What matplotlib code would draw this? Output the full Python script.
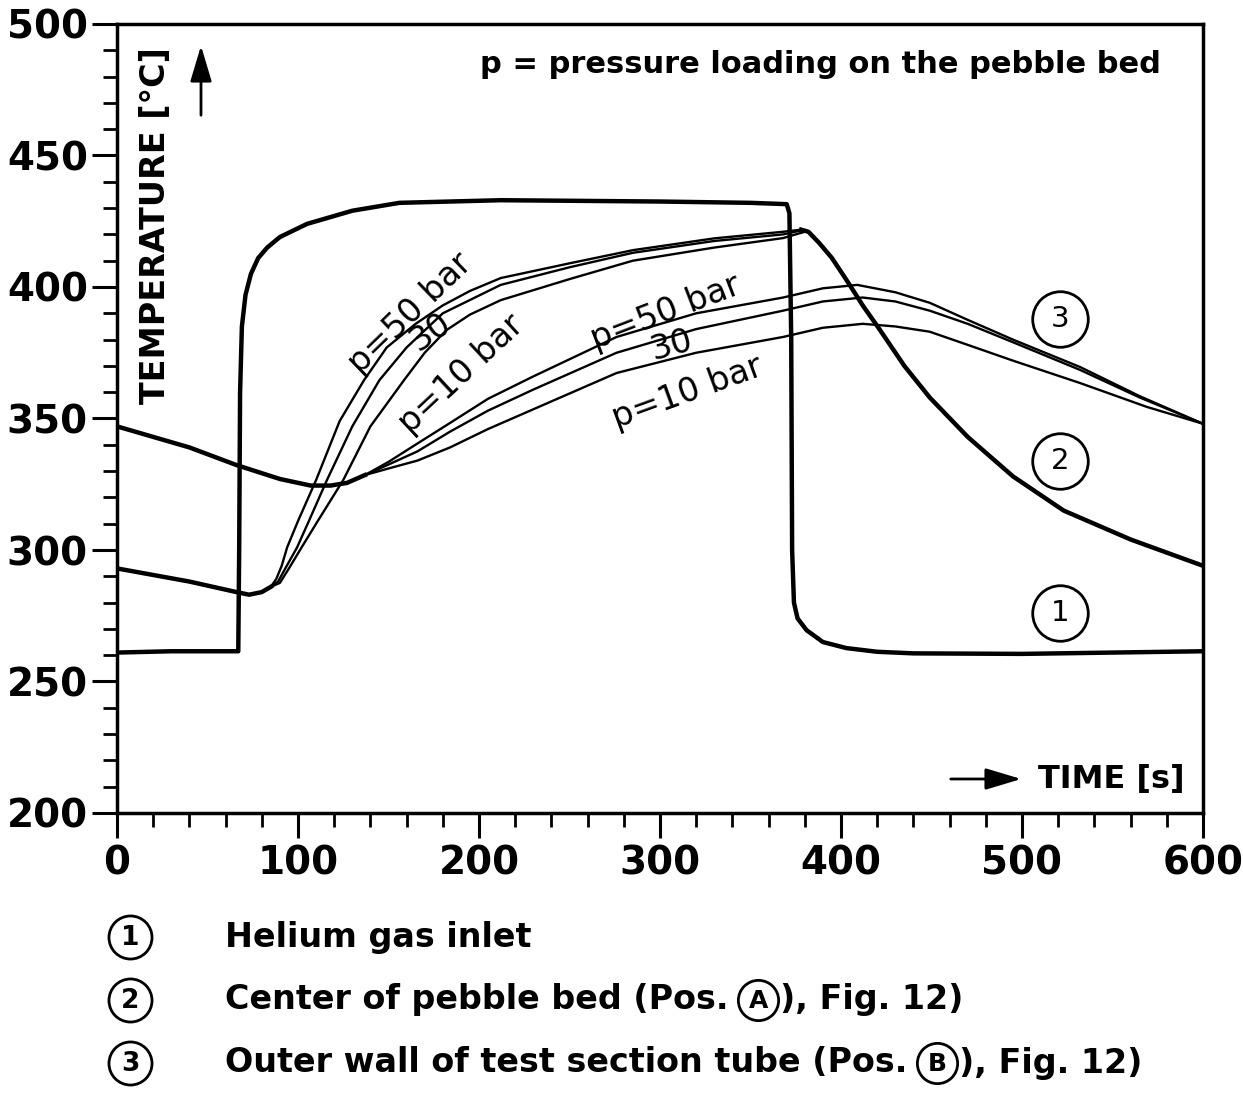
import matplotlib
matplotlib.use("Agg")
import matplotlib.pyplot as plt
from matplotlib.ticker import MultipleLocator

# curve 1: helium gas inlet
t_inlet = [0, 30, 67, 67.5, 68, 69, 71, 74, 78, 83, 90, 96, 105, 115, 130, 156,
           212, 300, 350, 370, 371.5, 372.5, 373, 374, 376, 381, 390, 403, 420,
           440, 500, 550, 600]
T_inlet = [261, 261.5, 261.5, 300, 360, 385, 397, 405, 411, 415, 419, 421, 424,
           426, 429, 432, 433, 432.5, 432, 431.5, 428, 380, 300, 280, 274, 269.5,
           265, 262.7, 261.3, 260.7, 260.5, 261, 261.5]

# curve 2: center of pebble bed (common start / three pressures / common decline)
t_c_start = [0, 20, 40, 66, 73, 80, 85]
T_c_start = [293, 290.5, 288, 284, 283, 284, 286]
t_c50 = [85, 88, 91, 94, 100, 110, 123, 136.5, 149, 165, 180, 195, 212, 250, 285, 330, 368, 378]
T_c50 = [286, 289, 294, 301, 311, 326.6, 349, 364.6, 377, 386, 393, 398.5, 403.4, 409, 414, 418.5, 421, 421.8]
t_c30 = [85, 89, 93, 99.5, 106, 116, 130, 145, 160, 180, 212, 250, 285, 330, 368, 378]
T_c30 = [286, 288, 293, 301, 311, 326.6, 347, 364.6, 377, 390, 400.8, 407.5, 413, 417.5, 420, 421.5]
t_c10 = [85, 90, 95, 102, 110, 125, 140, 158.6, 170, 182, 195, 212, 250, 285, 330, 368, 380]
T_c10 = [286, 287.5, 293, 301, 310, 326.6, 347, 364.6, 375, 383.6, 389.5, 395, 403, 410, 415, 418.6, 421]
t_c_end = [378, 382, 388, 395, 403, 412, 421.5, 435, 449, 470, 495, 523, 560, 600]
T_c_end = [421.8, 421, 416.7, 411, 402.7, 393, 383.7, 370, 358, 343, 328, 315, 304, 294]

# curve 3: outer wall of test section tube
t_w_start = [0, 20, 40, 66, 90, 107, 118, 127, 137]
T_w_start = [347, 343, 339, 332.3, 327, 324.5, 324.5, 325.5, 328.5]
t_w50 = [137, 150, 166, 184, 205, 230, 276, 320, 368, 390, 409, 430, 449, 470, 495, 532, 565, 600]
T_w50 = [328.5, 333.5, 340.5, 348.3, 357.5, 366, 381, 390, 396, 399.5, 400.8, 398, 394, 387.5, 380, 369.6, 358.5, 348]
t_w30 = [137, 150, 166, 184, 205, 230, 276, 320, 368, 390, 412, 430, 449, 470, 495, 532, 565, 600]
T_w30 = [328.5, 332.5, 337.5, 345, 353, 361, 375, 384, 391, 394.5, 396, 394.5, 391, 386, 379, 368.5, 358, 348]
t_w10 = [137, 150, 166, 184, 205, 230, 276, 320, 368, 390, 412, 430, 449, 470, 495, 532, 569, 600]
T_w10 = [328.5, 331, 334, 339, 346, 353.5, 367.3, 375, 381, 384.5, 386, 385, 383, 378, 372, 363.5, 354.4, 348]

# curve labels: (text, t, T, angle)
curve_labels = [("p=50 bar", 162, 390, 44), ("30", 173, 383, 35), ("p=10 bar", 190, 367, 43),
                ("p=50 bar", 303, 390.5, 21), ("30", 306.5, 378, 15), ("p=10 bar", 315, 360, 20)]
circle_tags = [("1", 521, 276), ("2", 521, 334), ("3", 521, 388)]

legend_items = ["Helium gas inlet", "Center of pebble bed (Pos. ", "Outer wall of test section tube (Pos. "]

W, H = 1243, 1111
fig = plt.figure(figsize=(W / 100, H / 100), dpi=100)
ax = fig.add_axes([117 / W, 1 - 813 / H, 1086 / W, 789 / H])

lw_thin = 1.7
ax.plot(t_inlet, T_inlet, color="black", lw=3.2, solid_joinstyle="round")
for tt, TT in [(t_c_start, T_c_start), (t_c50, T_c50), (t_c30, T_c30), (t_c10, T_c10),
               (t_c_end, T_c_end), (t_w_start, T_w_start), (t_w50, T_w50),
               (t_w30, T_w30), (t_w10, T_w10)]:
    ax.plot(tt, TT, color="black", lw=lw_thin)
# common stretches look like thick double lines
for tt, TT in [(t_c_start, T_c_start), (t_c_end, T_c_end), (t_w_start, T_w_start)]:
    ax.plot(tt, TT, color="black", lw=3.2)

for txt, x, y, ang in curve_labels:
    ax.text(x, y, txt, rotation=ang, rotation_mode="anchor", ha="center", va="center",
            fontsize=24, color="black")

for num, x, y in circle_tags:
    ax.plot(x, y, "o", ms=40, mfc="white", mec="black", mew=2, zorder=5)
    ax.text(x, y, num, ha="center", va="center", fontsize=21, zorder=6)

ax.set_xlim(0, 600)
ax.set_ylim(200, 500)
ax.xaxis.set_major_locator(MultipleLocator(100))
ax.xaxis.set_minor_locator(MultipleLocator(20))
ax.yaxis.set_major_locator(MultipleLocator(50))
ax.yaxis.set_minor_locator(MultipleLocator(10))
ax.tick_params(which="major", length=18, width=2.2, labelsize=28, pad=5)
ax.tick_params(axis="y", which="major", pad=3)
ax.tick_params(which="minor", length=10, width=2)
for lab in ax.get_xticklabels() + ax.get_yticklabels():
    lab.set_fontweight("bold")
for s in ax.spines.values():
    s.set_linewidth(2.5)

ax.text(0.035, 0.745, "TEMPERATURE [°C]", rotation=90, transform=ax.transAxes,
        ha="center", va="center", fontsize=24, fontweight="bold")
ax.text(0.961, 0.949, "p = pressure loading on the pebble bed", transform=ax.transAxes,
        ha="right", va="center", fontsize=22, fontweight="bold")
ax.text(0.983, 0.043, "TIME [s]", transform=ax.transAxes, ha="right", va="center",
        fontsize=23, fontweight="bold")

# overlay in pixel coordinates for arrows and the key below the plot
ov = fig.add_axes([0, 0, 1, 1], zorder=10)
ov.set_xlim(0, W)
ov.set_ylim(H, 0)
ov.axis("off")
ov.patch.set_alpha(0)
arrow = dict(arrowstyle="-|>,head_length=1.0,head_width=0.3", lw=2, color="black", mutation_scale=22)
ov.annotate("", xy=(201, 43), xytext=(201, 118), arrowprops=arrow)
ov.annotate("", xy=(1024, 779), xytext=(948, 779), arrowprops=arrow)

rows_y = [937, 1000, 1063]
texts = []
for i, (lab, y) in enumerate(zip(legend_items, rows_y)):
    ov.plot(130, y, "o", ms=31, mfc="white", mec="black", mew=2)
    ov.text(130, y + 1, str(i + 1), ha="center", va="center", fontsize=19, fontweight="bold")
    texts.append(ov.text(225, y, lab, ha="left", va="center", fontsize=24, fontweight="bold"))

fig.canvas.draw()
r = fig.canvas.get_renderer()
inv = ov.transData.inverted()
for txt, letter, after in [(texts[1], "A", "), Fig. 12)"), (texts[2], "B", "), Fig. 12)")]:
    bb = txt.get_window_extent(r)
    x_end = inv.transform((bb.x1, bb.y0))[0]
    y = txt.get_position()[1]
    cx = x_end + 18
    ov.plot(cx, y, "o", ms=29, mfc="white", mec="black", mew=2)
    ov.text(cx, y + 1, letter, ha="center", va="center", fontsize=18, fontweight="bold")
    ov.text(cx + 22, y, after, ha="left", va="center", fontsize=24, fontweight="bold")

fig.savefig("out.png", dpi=100)
